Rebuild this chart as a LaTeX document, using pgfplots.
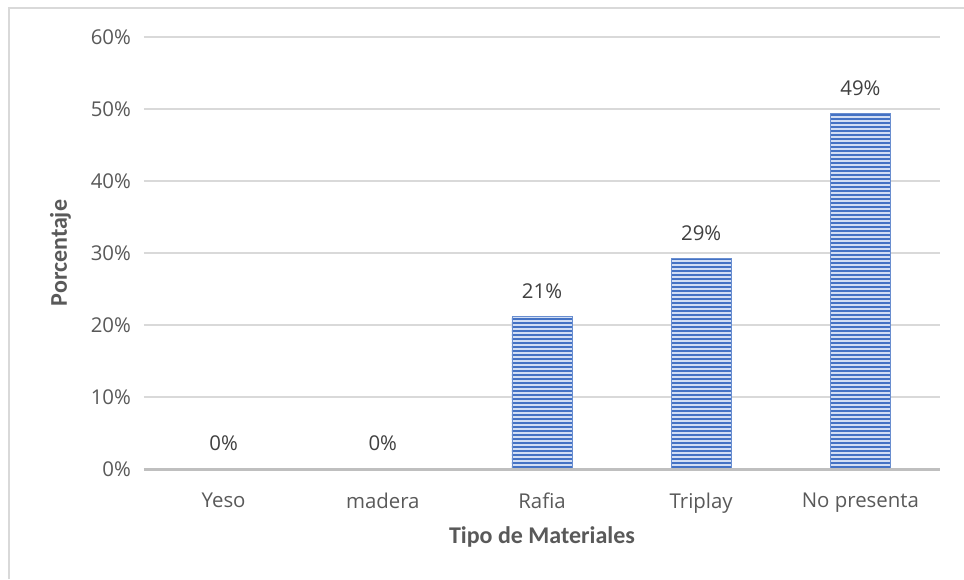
\documentclass[border=0pt]{standalone}
\usepackage{pgfplots}
\pgfplotsset{compat=1.18}
\usepackage{fontspec}
\setmainfont{Carlito}
\newfontfamily\tickfont{Open Sans}
\usetikzlibrary{patterns.meta}
\definecolor{barblue}{HTML}{4472C4}
\definecolor{barlight}{HTML}{D2DEF4}
\definecolor{gridc}{HTML}{D9D9D9}
\definecolor{axisc}{HTML}{BFBFBF}
\definecolor{txt}{HTML}{595959}
\definecolor{lbl}{HTML}{404040}
\begin{document}
\begin{tikzpicture}[x=1pt,y=1pt]
\path[use as bounding box] (0,0) rectangle (482,289.5);
\draw[gridc,line width=0.6pt] (4.5,0) -- (4.5,285.5) -- (482,285.5);
\begin{axis}[
  at={(72pt,55pt)}, anchor=south west,
  scale only axis, width=398pt, height=216pt,
  ybar, bar width=30pt,
  xmin=-0.5, xmax=4.5, ymin=0, ymax=60,
  xtick={0,1,2,3,4},
  xticklabels={Yeso,madera,Rafia,Triplay,No presenta},
  ytick={0,10,...,60},
  yticklabel={\pgfmathprintnumber{\tick}\%},
  /pgf/number format/assume math mode=true,
  font=\fontsize{12}{14}\selectfont,
  tick label style={text=txt, font=\tickfont\fontsize{10.2}{12}\selectfont},
  xtick style={draw=none}, ytick style={draw=none},
  ymajorgrids, grid style={gridc, line width=0.7pt},
  axis line style={draw=none},
  axis x line*=bottom, axis y line*=left,
  xticklabel style={yshift=-4pt},
  yticklabel style={xshift=-3pt},
  xlabel={\textbf{Tipo de Materiales}},
  ylabel={\textbf{Porcentaje}},
  xlabel style={text=txt, at={(axis description cs:0.5,-0.157)}, anchor=center},
  ylabel style={text=txt, at={(axis description cs:-0.105,0.5)}, anchor=center},
  nodes near coords={\pgfmathprintnumber[fixed,precision=0]{\pgfplotspointmeta}\%},
  nodes near coords style={text=lbl, font=\tickfont\fontsize{10.2}{12}\selectfont, yshift=5.5pt},
  point meta=explicit,
  clip=false,
]
\addplot[draw=barblue!80, line width=0.4pt, fill=barlight,
  postaction={pattern={Lines[angle=0,distance=2pt,line width=1pt]}, pattern color=barblue}]
  coordinates {(0,0) [0] (1,0) [0] (2,21.2) [21] (3,29.2) [29] (4,49.4) [49]};
\draw[axisc, line width=1.5pt] (axis cs:-0.5,0) -- (axis cs:4.5,0);
\end{axis}
\end{tikzpicture}
\end{document}
